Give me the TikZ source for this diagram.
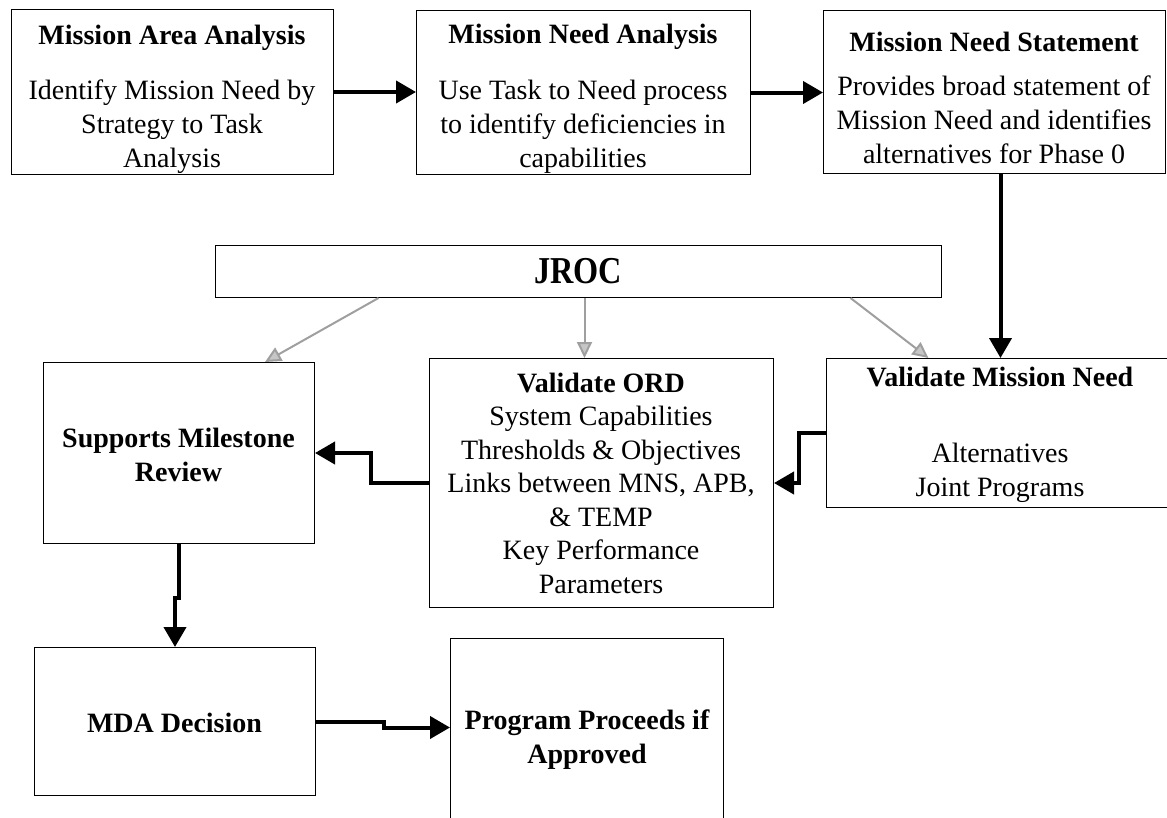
\documentclass[tikz,border=0pt]{standalone}
\usepackage{fontspec}
\setmainfont{Liberation Serif}
\usetikzlibrary{arrows.meta,calc}
\begin{document}
\begin{tikzpicture}[x=1pt,y=-1pt,
  box/.style={draw=black,line width=1pt,inner sep=0pt,anchor=north west},
  txt/.style={align=center,inner sep=0pt,font=\fontsize{28}{34}\selectfont},
  ttl/.style={txt,font=\fontsize{28}{34}\selectfont\bfseries},
  blk/.style={draw=black,line width=4pt,-{Triangle[length=20pt,width=22pt]}},
  gry/.style={draw=gray!75,line width=2pt,-{Triangle[length=16pt,width=15pt,fill=gray!45]}}]

\useasboundingbox (0,0) rectangle (1167,817);
\clip (0,0) rectangle (1167,817);

% process boxes
\node[box,minimum width=322pt,minimum height=165pt] (maa) at (11,9) {};
\node[box,minimum width=334pt,minimum height=164pt] (mna) at (416,10) {};
\node[box,minimum width=342pt,minimum height=163pt] (mns) at (823,10) {};
\node[box,minimum width=726pt,minimum height=52pt] (jroc) at (215,245) {};
\node[box,minimum width=271pt,minimum height=181pt] (smr) at (43,362) {};
\node[box,minimum width=344pt,minimum height=249pt] (ord) at (429,358) {};
\node[box,minimum width=348pt,minimum height=149pt] (vmn) at (826,358) {};
\node[box,minimum width=281pt,minimum height=148pt] (mda) at (34,647) {};
\node[box,minimum width=273pt,minimum height=190pt] (ppa) at (450,638) {};

% main flow
\draw[blk] (maa.east) -- (maa.east -| mna.west);
\draw[blk] (mna.east) -- (mna.east -| mns.west);
\draw[blk] (vmn.north |- mns.south) -- (vmn.north);
\draw[blk] (vmn.west) -- ++(-27,0) |- (ord.east);
\draw[blk] (ord.west) -- ++(-58,0) |- (smr.east);
\draw[blk] (smr.south) -- ++(0,54) -| (mda.north);
\draw[blk] (mda.east) -- ++(68,0) |- ([yshift=6pt]ppa.west);

% JROC oversight
\draw[gry] ([xshift=-200pt]jroc.south) -- ([xshift=86pt]smr.north);
\draw[gry] ([xshift=6pt]jroc.south) -- ([xshift=6pt]jroc.south |- ord.north);
\draw[gry] ([xshift=272pt]jroc.south) -- ([xshift=-72pt]vmn.north);

% labels
\node[ttl] (t-maa) at (172,38) {Mission Area Analysis};
\node[txt] (b-maa) at (172,127) {Identify Mission Need by\\Strategy to Task\\Analysis};
\node[ttl] (t-mna) at (583,37) {Mission Need Analysis};
\node[txt] (b-mna) at (583,127) {Use Task to Need process\\to identify deficiencies in\\capabilities};
\node[ttl] (t-mns) at (994,42) {Mission Need Statement};
\node[txt] (b-mns) at (994,120) {Provides broad statement of\\Mission Need and identifies\\alternatives for Phase 0};

\node[inner sep=0pt,font=\fontsize{38}{40}\selectfont\bfseries] (t-jroc) at (578,271) {\scalebox{0.85}[1]{JROC}};

\node[ttl] (t-smr) at (178.5,454.5) {Supports Milestone\\Review};
\node[txt,font=\fontsize{28}{33.5}\selectfont] (t-ord) at (601,483)
  {\textbf{Validate ORD}\\System Capabilities\\Thresholds \& Objectives\\Links between MNS, APB,\\\& TEMP\\Key Performance\\Parameters};
\node[ttl] (t-vmn) at (1000,377) {Validate Mission Need};
\node[txt] (b-vmn) at (1000,472.5) {Alternatives\\Joint Programs};
\node[ttl] (t-mda) at (174.5,723) {MDA Decision};
\node[ttl] (t-ppa) at (587,739.5) {Program Proceeds if\\Approved};
\end{tikzpicture}
\end{document}
